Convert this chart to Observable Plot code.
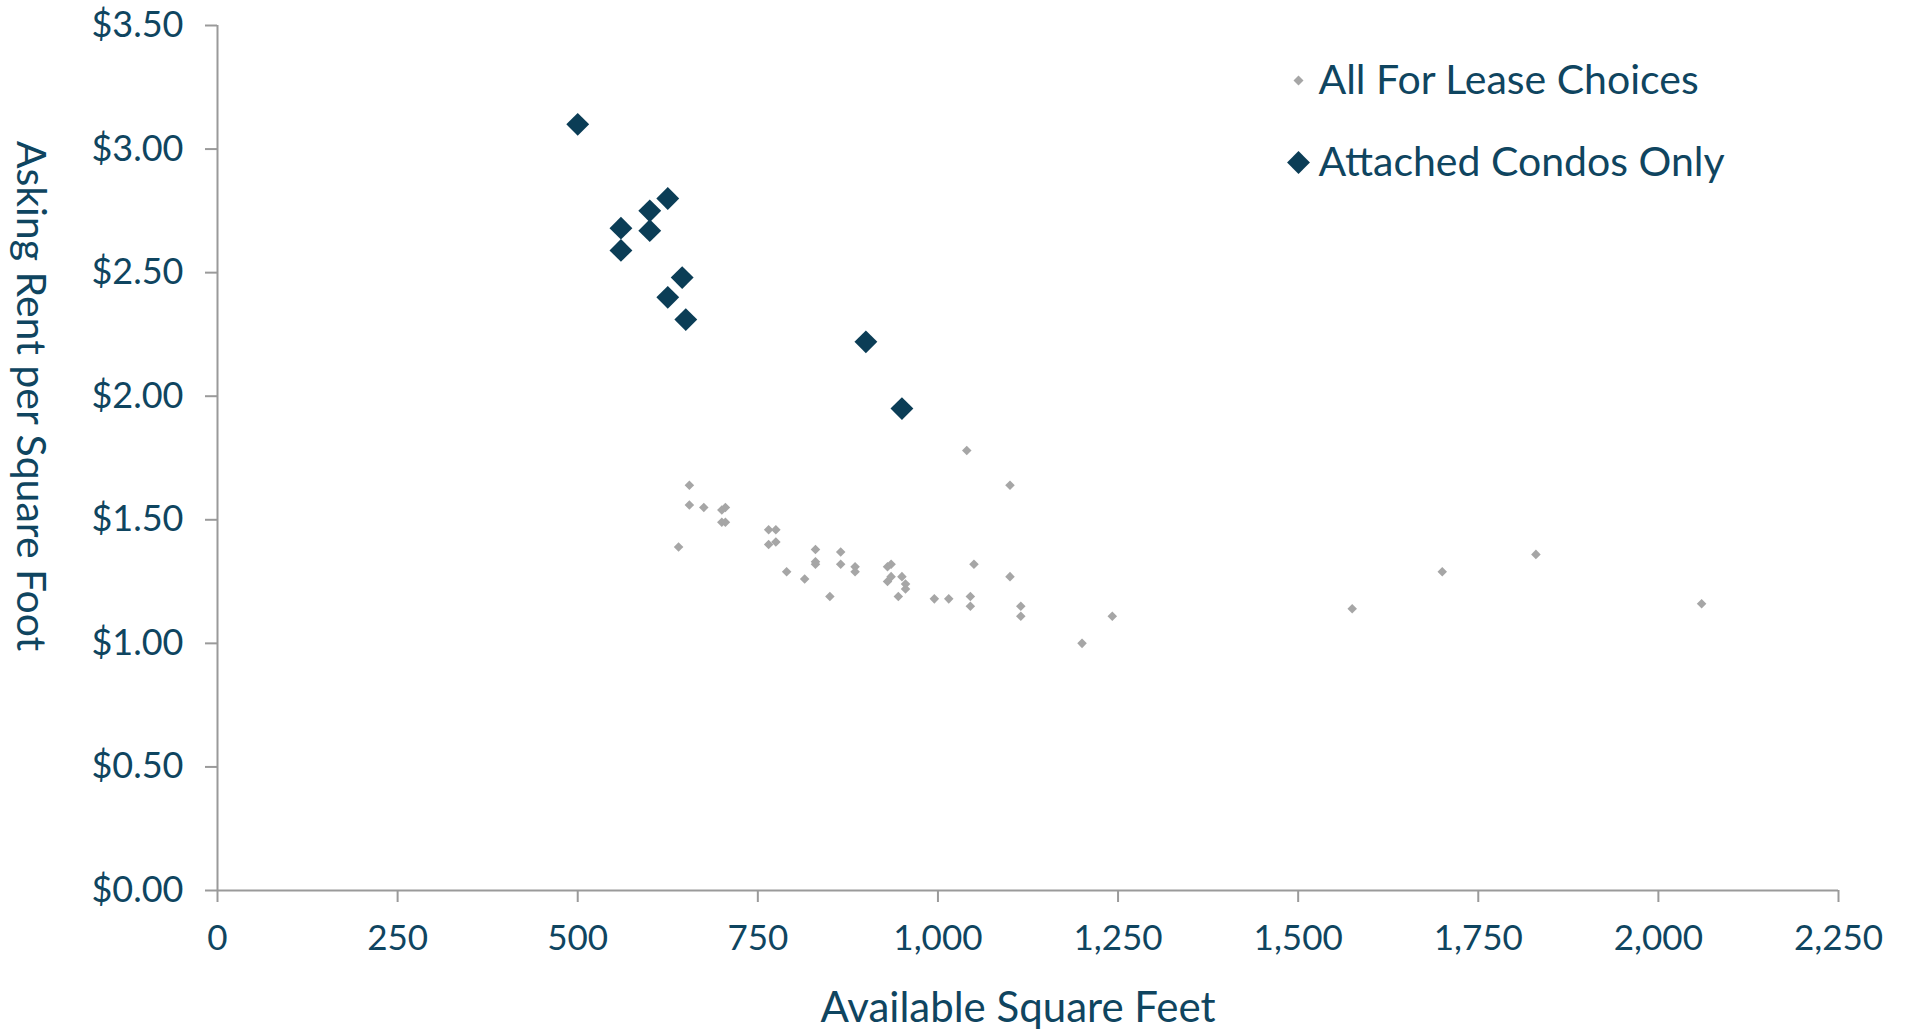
<!DOCTYPE html>
<html>
<head>
<meta charset="utf-8">
<script src="https://cdn.jsdelivr.net/npm/d3@7"></script>
<script src="https://cdn.jsdelivr.net/npm/@observablehq/plot@0.6"></script>
<style>
  html, body { margin: 0; padding: 0; background: #fff; }
  #chart svg { display: block; }
</style>
</head>
<body>
<div id="chart"></div>
<script>
// All For Lease Choices
const leaseSqft = [655, 655, 675, 700, 705, 700, 705, 640, 765, 775, 765, 775, 790, 815, 830, 830, 830, 850, 865, 865, 885, 885, 930, 935, 935, 930, 950, 955, 955, 945, 995, 1015, 1040, 1050, 1045, 1045, 1100, 1100, 1115, 1115, 1242, 1200, 1575, 1700, 1830, 2060];
const leaseRent = [1.64, 1.56, 1.55, 1.54, 1.55, 1.49, 1.49, 1.39, 1.46, 1.46, 1.40, 1.41, 1.29, 1.26, 1.38, 1.33, 1.32, 1.19, 1.37, 1.32, 1.31, 1.29, 1.31, 1.32, 1.27, 1.25, 1.27, 1.24, 1.22, 1.19, 1.18, 1.18, 1.78, 1.32, 1.19, 1.15, 1.64, 1.27, 1.15, 1.11, 1.11, 1.00, 1.14, 1.29, 1.36, 1.16];
// Attached Condos Only
const condoSqft = [500, 560, 560, 600, 600, 625, 645, 625, 650, 900, 950];
const condoRent = [3.10, 2.68, 2.59, 2.75, 2.67, 2.80, 2.48, 2.40, 2.31, 2.22, 1.95];

const xTicks = [0, 250, 500, 750, 1000, 1250, 1500, 1750, 2000, 2250];
const yTicks = [0, 0.5, 1.0, 1.5, 2.0, 2.5, 3.0, 3.5];
const seriesNames = ["All For Lease Choices", "Attached Condos Only"];
const xTitle = "Available Square Feet";
const yTitle = "Asking Rent per Square Foot";

const lease = leaseSqft.map((x, i) => ({x, y: leaseRent[i]}));
const condo = condoSqft.map((x, i) => ({x, y: condoRent[i]}));

const GREY = "#a6a6a6";
const DARK = "#0b3d56";
const TEXT = "#0f4560";
const AXIS = "#9a9a9a";
const FONT = "Lato, 'Noto Sans', sans-serif";

const chart = Plot.plot({
  width: 1911,
  height: 1030,
  marginLeft: 217,
  marginRight: 73,
  marginTop: 25,
  marginBottom: 140,
  style: {fontFamily: FONT, background: "#fff", color: TEXT},
  x: {domain: [0, 2250], ticks: xTicks},
  y: {domain: [0, 3.5], ticks: yTicks},
  marks: [
    Plot.ruleX([0], {stroke: AXIS, strokeWidth: 2}),
    Plot.ruleY([0], {stroke: AXIS, strokeWidth: 2}),
    Plot.axisX({ticks: xTicks, tickSize: 12, tickPadding: 23, stroke: AXIS, strokeWidth: 2,
      tickFormat: d => d3.format(",")(d), fontSize: 35, fill: TEXT, label: null}),
    Plot.axisY({ticks: yTicks, tickSize: 12, tickPadding: 22, stroke: AXIS, strokeWidth: 2,
      tickFormat: d => "$" + d.toFixed(2), fontSize: 36, fill: TEXT, label: null}),
    Plot.dot(lease, {x: "x", y: "y", symbol: "diamond2", r: 4.3, fill: GREY}),
    Plot.dot(condo, {x: "x", y: "y", symbol: "diamond2", r: 10.3, fill: DARK}),
    // legend
    Plot.dot([seriesNames[0]], {frameAnchor: "top-left", dx: 1081, dy: 55, symbol: "diamond2", r: 4.5, fill: GREY}),
    Plot.dot([seriesNames[1]], {frameAnchor: "top-left", dx: 1081, dy: 137, symbol: "diamond2", r: 10.3, fill: DARK}),
    Plot.text([seriesNames[0]], {text: d => d, frameAnchor: "top-left", dx: 1101, dy: 55, textAnchor: "start", lineAnchor: "middle", fontSize: 41, fill: TEXT}),
    Plot.text([seriesNames[1]], {text: d => d, frameAnchor: "top-left", dx: 1101, dy: 137, textAnchor: "start", lineAnchor: "middle", fontSize: 41, fill: TEXT}),
    // axis titles
    Plot.text([xTitle], {text: d => d, frameAnchor: "bottom", dx: -10, dy: 131, lineAnchor: "bottom", fontSize: 42, fill: TEXT}),
    Plot.text([yTitle], {text: d => d, frameAnchor: "left", dx: -187, dy: -62, rotate: 90, textAnchor: "middle", lineAnchor: "middle", fontSize: 41, fill: TEXT})
  ]
});
document.getElementById("chart").appendChild(chart);
</script>
</body>
</html>
